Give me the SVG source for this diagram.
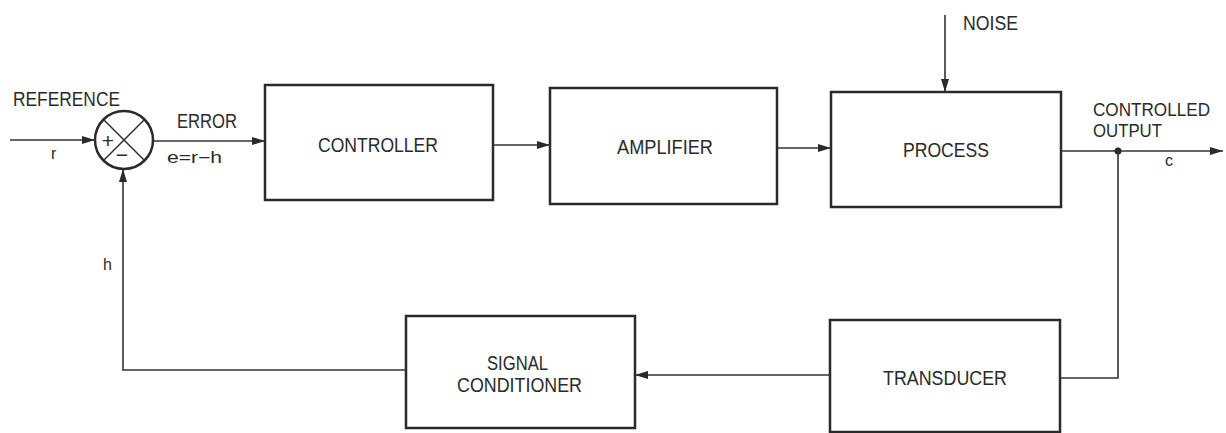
<svg xmlns="http://www.w3.org/2000/svg" width="1226" height="433" viewBox="0 0 1226 433">
<style>
.box{fill:none;stroke:#2a2a2a;stroke-width:2.5}
.ln{fill:none;stroke:#333;stroke-width:1.6}
.t{font-family:"Liberation Sans",Arial,sans-serif;font-size:20px;fill:#2a2a2a}
.o{font-family:"Liberation Sans",Arial,sans-serif;font-size:18px;fill:#2a2a2a}
.s{font-family:"Liberation Sans",Arial,sans-serif;font-size:16px;fill:#2a2a2a}
.p{font-family:"Liberation Sans",Arial,sans-serif;font-size:21px;fill:#2a2a2a;text-anchor:middle}
</style>
<defs>
<marker id="ah" markerUnits="userSpaceOnUse" markerWidth="14" markerHeight="10" refX="13" refY="5" orient="auto">
<path d="M0,1 L13,5 L0,9 Z" fill="#2a2a2a"/>
</marker>
</defs>
<rect width="1226" height="433" fill="#fff"/>
<g id="sum">
<circle cx="124" cy="140" r="29" fill="none" stroke="#2a2a2a" stroke-width="2.5"/>
<line x1="103.5" y1="119.5" x2="144.5" y2="160.5" class="ln"/>
<line x1="144.5" y1="119.5" x2="103.5" y2="160.5" class="ln"/>
<text x="108" y="148" class="p">+</text>
<text x="122" y="162" class="p">−</text>
</g>
<g id="controller">
<rect x="265" y="85" width="228" height="115" class="box"/>
<text x="318" y="152" class="t" textLength="120" lengthAdjust="spacingAndGlyphs">CONTROLLER</text>
</g>
<g id="amplifier">
<rect x="550" y="88" width="227" height="116" class="box"/>
<text x="617" y="154" class="t" textLength="96" lengthAdjust="spacingAndGlyphs">AMPLIFIER</text>
</g>
<g id="process">
<rect x="831" y="92" width="230" height="115" class="box"/>
<text x="903" y="157" class="t" textLength="86" lengthAdjust="spacingAndGlyphs">PROCESS</text>
</g>
<g id="transducer">
<rect x="830" y="320" width="230" height="112" class="box"/>
<text x="883" y="385" class="t" textLength="124" lengthAdjust="spacingAndGlyphs">TRANSDUCER</text>
</g>
<g id="signal-conditioner">
<rect x="406" y="316" width="229" height="112" class="box"/>
<text x="487" y="370" class="t" textLength="61" lengthAdjust="spacingAndGlyphs">SIGNAL</text>
<text x="457" y="392" class="t" textLength="125" lengthAdjust="spacingAndGlyphs">CONDITIONER</text>
</g>
<g id="connectors">
<line x1="10" y1="140" x2="95" y2="140" class="ln" marker-end="url(#ah)"/>
<line x1="153" y1="141" x2="265" y2="141" class="ln" marker-end="url(#ah)"/>
<line x1="493" y1="145" x2="550" y2="145" class="ln" marker-end="url(#ah)"/>
<line x1="777" y1="148" x2="831" y2="148" class="ln" marker-end="url(#ah)"/>
<line x1="945" y1="15" x2="945" y2="92" class="ln" marker-end="url(#ah)"/>
<line x1="1061" y1="151" x2="1223" y2="151" class="ln" marker-end="url(#ah)"/>
<circle cx="1118" cy="151" r="3.5" fill="#2a2a2a"/>
<polyline points="1118,151 1118,378 1060,378" class="ln"/>
<line x1="830" y1="375" x2="635" y2="375" class="ln" marker-end="url(#ah)"/>
<polyline points="406,370 123,370 123,169" class="ln" marker-end="url(#ah)"/>
</g>
<g id="labels">
<text x="13" y="106" class="t" textLength="107" lengthAdjust="spacingAndGlyphs">REFERENCE</text>
<text x="51" y="159" class="s">r</text>
<text x="177" y="128" class="t" textLength="60" lengthAdjust="spacingAndGlyphs">ERROR</text>
<text x="167" y="163" class="s" textLength="55" lengthAdjust="spacingAndGlyphs">e=r−h</text>
<text x="963" y="30" class="t" textLength="55" lengthAdjust="spacingAndGlyphs">NOISE</text>
<text x="1093" y="116" class="o" textLength="117" lengthAdjust="spacingAndGlyphs">CONTROLLED</text>
<text x="1093" y="137" class="o" textLength="69" lengthAdjust="spacingAndGlyphs">OUTPUT</text>
<text x="1165" y="166" class="s">c</text>
<text x="103" y="270" class="s">h</text>
</g>
</svg>
